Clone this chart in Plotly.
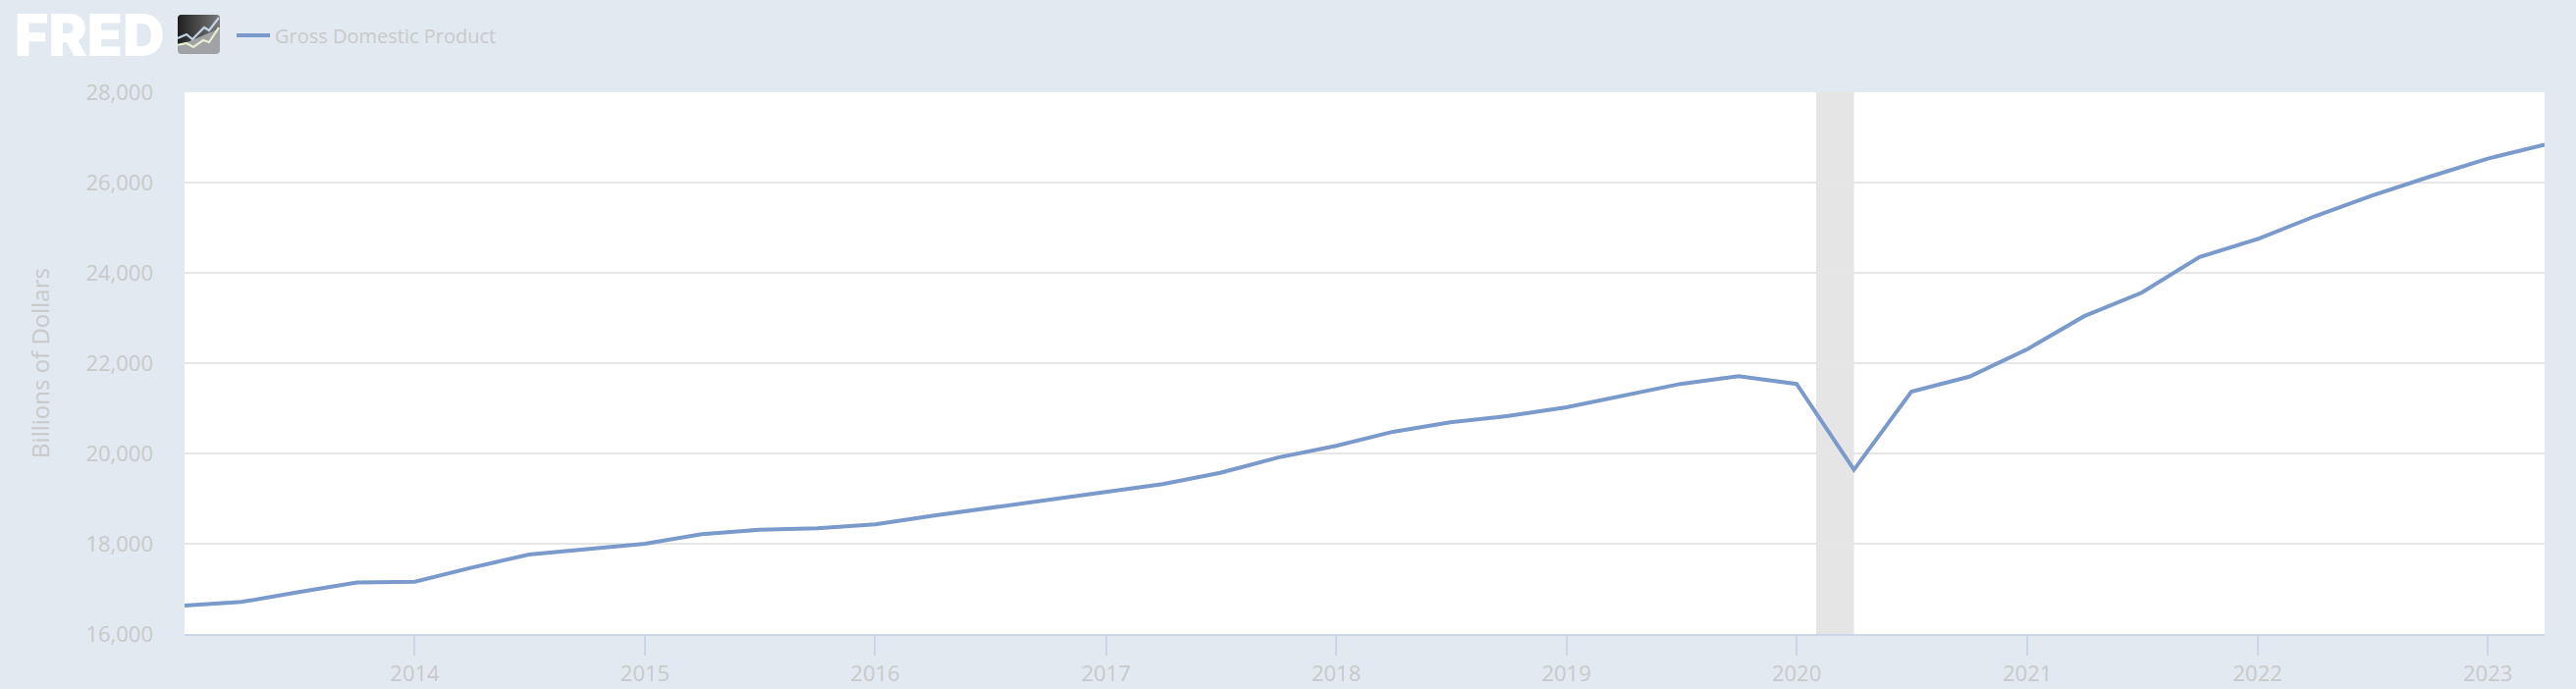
import base64
import plotly.graph_objects as go

# ---- data -------------------------------------------------------------
quarters = ["2013-01-01","2013-04-01","2013-07-01","2013-10-01",
            "2014-01-01","2014-04-01","2014-07-01","2014-10-01",
            "2015-01-01","2015-04-01","2015-07-01","2015-10-01",
            "2016-01-01","2016-04-01","2016-07-01","2016-10-01",
            "2017-01-01","2017-04-01","2017-07-01","2017-10-01",
            "2018-01-01","2018-04-01","2018-07-01","2018-10-01",
            "2019-01-01","2019-04-01","2019-07-01","2019-10-01",
            "2020-01-01","2020-04-01","2020-07-01","2020-10-01",
            "2021-01-01","2021-04-01","2021-07-01","2021-10-01",
            "2022-01-01","2022-04-01","2022-07-01","2022-10-01",
            "2023-01-01","2023-04-01"]
gdp = [16630, 16710, 16930, 17140, 17160, 17470, 17760, 17870,
       18000, 18210, 18310, 18340, 18430, 18620, 18790, 18970,
       19150, 19320, 19570, 19910, 20170, 20480, 20690, 20830,
       21020, 21280, 21540, 21710, 21540, 19640, 21370, 21700,
       22310, 23040, 23560, 24350, 24750, 25250, 25710, 26130,
       26530, 26840]
series_name = "Gross Domestic Product"
y_title = "Billions of Dollars"
y_ticks = [16000, 18000, 20000, 22000, 24000, 26000, 28000]
y_labels = ["16,000", "18,000", "20,000", "22,000", "24,000", "26,000", "28,000"]
x_ticks = ["2014-01-01","2015-01-01","2016-01-01","2017-01-01","2018-01-01",
           "2019-01-01","2020-01-01","2021-01-01","2022-01-01","2023-01-01"]
x_labels = ["2014","2015","2016","2017","2018","2019","2020","2021","2022","2023"]
recession = ("2020-02-01", "2020-04-01")

# ---- style ------------------------------------------------------------
W, H = 2624, 702
BG = "#e2e9f0"
LINE = "#7a9acb"
TXT = "#c9c9c9"
FONT = "Open Sans"
PW, PH = 2404, 552

logo_svg = """<svg xmlns='http://www.w3.org/2000/svg' viewBox='0 0 43 40' width='43' height='40' preserveAspectRatio='none'>
<defs><linearGradient id='g' x1='0' x2='1' y1='0' y2='0'>
<stop offset='0' stop-color='#1f1f1f'/><stop offset='1' stop-color='#7b7b7b'/></linearGradient></defs>
<rect width='43' height='40' rx='4' fill='#a0a2a5'/>
<path d='M0 4 a4 4 0 0 1 4 -4 H39 a4 4 0 0 1 4 4 V14 L0 32 Z' fill='url(#g)'/>
<path d='M0 24 L9 20 L15 25 L27 13 L32 16 L42 3' fill='none' stroke='#c4d4e6' stroke-width='2.2'/>
<path d='M0 31 L9 29 L16 33 L26 26 L32 28 L42 13' fill='none' stroke='#e6f0d0' stroke-width='2.2'/>
</svg>"""
logo_src = "data:image/svg+xml;base64," + base64.b64encode(logo_svg.encode()).decode()

fig = go.Figure(go.Scatter(
    x=quarters, y=gdp, mode="lines", name=series_name,
    line=dict(color=LINE, width=4), showlegend=True, hoverinfo="skip"))

fig.add_shape(type="rect", xref="x", yref="paper", x0=recession[0], x1=recession[1],
              y0=0, y1=1, fillcolor="#e5e5e5", line_width=0, layer="below")

fig.update_layout(
    width=W, height=H, autosize=False,
    margin=dict(l=188, r=32, t=94, b=56),
    paper_bgcolor=BG, plot_bgcolor="#ffffff",
    font=dict(family=FONT, color=TXT, size=20),
    showlegend=True,
    legend=dict(x=(236-188)/PW, y=1 + (94-36)/PH,
                xanchor="left", yanchor="middle",
                bgcolor="rgba(0,0,0,0)", borderwidth=0,
                font=dict(family=FONT, size=20, color=TXT), itemwidth=34),
    xaxis=dict(type="date", range=[quarters[0], quarters[-1]],
               tickmode="array", tickvals=x_ticks, ticktext=x_labels,
               ticks="outside", ticklen=20, tickwidth=2, tickcolor="#ccd6eb",
               showline=True, linecolor="#ccd6eb", linewidth=2,
               showgrid=False, zeroline=False, automargin=False,
               tickfont=dict(family=FONT, size=22, color=TXT)),
    yaxis=dict(range=[16000, 28000],
               tickmode="array", tickvals=y_ticks, ticktext=y_labels,
               ticks="", showline=False, zeroline=False,
               showgrid=True, gridcolor="#e6e6e6", gridwidth=2,
               ticklabelstandoff=31, automargin=False,
               tickfont=dict(family=FONT, size=22, color=TXT),
               title=dict(text=y_title, standoff=30,
                          font=dict(family=FONT, size=24, color=TXT))),
    annotations=[dict(text="FRED", xref="paper", yref="paper",
                      x=(13-188)/PW, y=1 + (94-35)/PH,
                      xanchor="left", yanchor="middle", showarrow=False,
                      font=dict(family="Inter", size=59, color="#ffffff", weight=900))],
    images=[dict(source=logo_src, xref="paper", yref="paper",
                 x=(181-188)/PW, y=1 + (94-15)/PH,
                 sizex=43/PW, sizey=40/PH,
                 xanchor="left", yanchor="top", sizing="stretch", layer="above")],
)
fig.write_html("out.html", config={"displayModeBar": False},
               post_script="document.body.style.margin='0';")
